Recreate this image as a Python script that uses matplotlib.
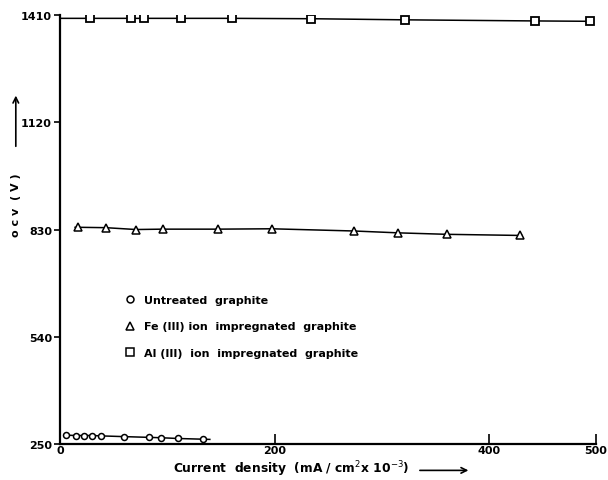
import numpy as np
import matplotlib
matplotlib.use("Agg")
from matplotlib import pyplot as plt
from matplotlib.lines import Line2D

# untreated graphite
circ_x = [5.3, 14.6, 22.4, 29.9, 37.7, 59.7, 82.8, 94, 109.5, 133.4]
circ_v = [274, 273, 273, 273, 272, 270, 268, 267, 265, 263]
circ_tail = 139.6

# Fe(III) ion impregnated
tri_x = [16.8, 42.4, 70.6, 95.5, 146.8, 197.2, 274.3, 315.3, 361, 428.8]
tri_v = [836, 835, 830, 831, 831, 832, 826, 821, 817, 814]

# Al(III) ion impregnated
sq_x = [27.7, 66, 78.4, 112.6, 160.4, 233.9, 321.5, 442.8, 495]
sq_v = [1401, 1401, 1401, 1401, 1401, 1400, 1397, 1394, 1393]

yticks = [250, 540, 830, 1120, 1410]
xticks = [0, 200, 400, 500]

plt.rcParams['font.family'] = 'DejaVu Sans'
fig = plt.figure(figsize=(6.08, 4.81), dpi=100)
ax = fig.add_axes([0.0992, 0.0748, 0.8808, 0.8919])

# lines
ax.plot(np.r_[0, sq_x], np.r_[sq_v[0], sq_v], color='black', lw=1.1)
ax.plot(sq_x, sq_v, ls='none', marker='s', ms=5.5, mfc='white', mec='black', mew=1.3)
ax.plot(np.r_[tri_x[0] - 3, tri_x, tri_x[-1] + 2], np.r_[tri_v[0], tri_v, tri_v[-1]],
        color='black', lw=1.1)
ax.plot(tri_x, tri_v, ls='none', marker='^', ms=5.5, mfc='white', mec='black', mew=1.1)
ax.plot(np.r_[circ_x, circ_tail], np.r_[circ_v, circ_v[-1] - 0.5], color='black', lw=1.1)
ax.plot(circ_x, circ_v, ls='none', marker='o', ms=4.3, mfc='white', mec='black', mew=1.1)

ax.set_xlim(0, 500)
ax.set_ylim(250, 1410)
ax.set_xticks(xticks)
ax.set_yticks(yticks)
ax.set_xticklabels([str(t) for t in xticks], fontsize=8, fontweight='bold')
ax.set_yticklabels([str(t) for t in yticks], fontsize=8, fontweight='bold')
ax.tick_params(axis='x', direction='in', length=7, width=1.2, pad=1)
ax.tick_params(axis='y', direction='out', length=4, width=1.2, pad=2)
for s in ['top', 'right']:
    ax.spines[s].set_visible(False)
for s in ['left', 'bottom']:
    ax.spines[s].set_linewidth(1.6)

handles = [
    Line2D([], [], ls='none', marker='o', ms=5, mfc='white', mec='black', mew=1.1),
    Line2D([], [], ls='none', marker='^', ms=5.5, mfc='white', mec='black', mew=1.1),
    Line2D([], [], ls='none', marker='s', ms=5.5, mfc='white', mec='black', mew=1.1),
]
labels = ["Untreated  graphite",
          "Fe (III) ion  impregnated  graphite",
          "Al (III)  ion  impregnated  graphite"]
ax.legend(handles, labels, loc='upper left', bbox_to_anchor=(0.09, 0.37),
          frameon=False, handletextpad=0.3, labelspacing=1.45,
          prop={'size': 8, 'weight': 'bold'})

# axis titles with arrows
fig.text(0.285, 0.025, "Current  density  (mA / cm$^2$x 10$^{-3}$)", fontsize=8.8,
         fontweight='bold', ha='left', va='center')
ax.annotate("", xy=(0.775, 0.02), xytext=(0.686, 0.02), xycoords='figure fraction',
            arrowprops=dict(arrowstyle='->', lw=1.2, color='black'))
fig.text(0.026, 0.574, "o c v  ( V )", fontsize=8, fontweight='bold', rotation=90,
         ha='center', va='center')
ax.annotate("", xy=(0.026, 0.805), xytext=(0.026, 0.688), xycoords='figure fraction',
            arrowprops=dict(arrowstyle='->', lw=1.2, color='black'))

plt.savefig("out.png", dpi=100)
